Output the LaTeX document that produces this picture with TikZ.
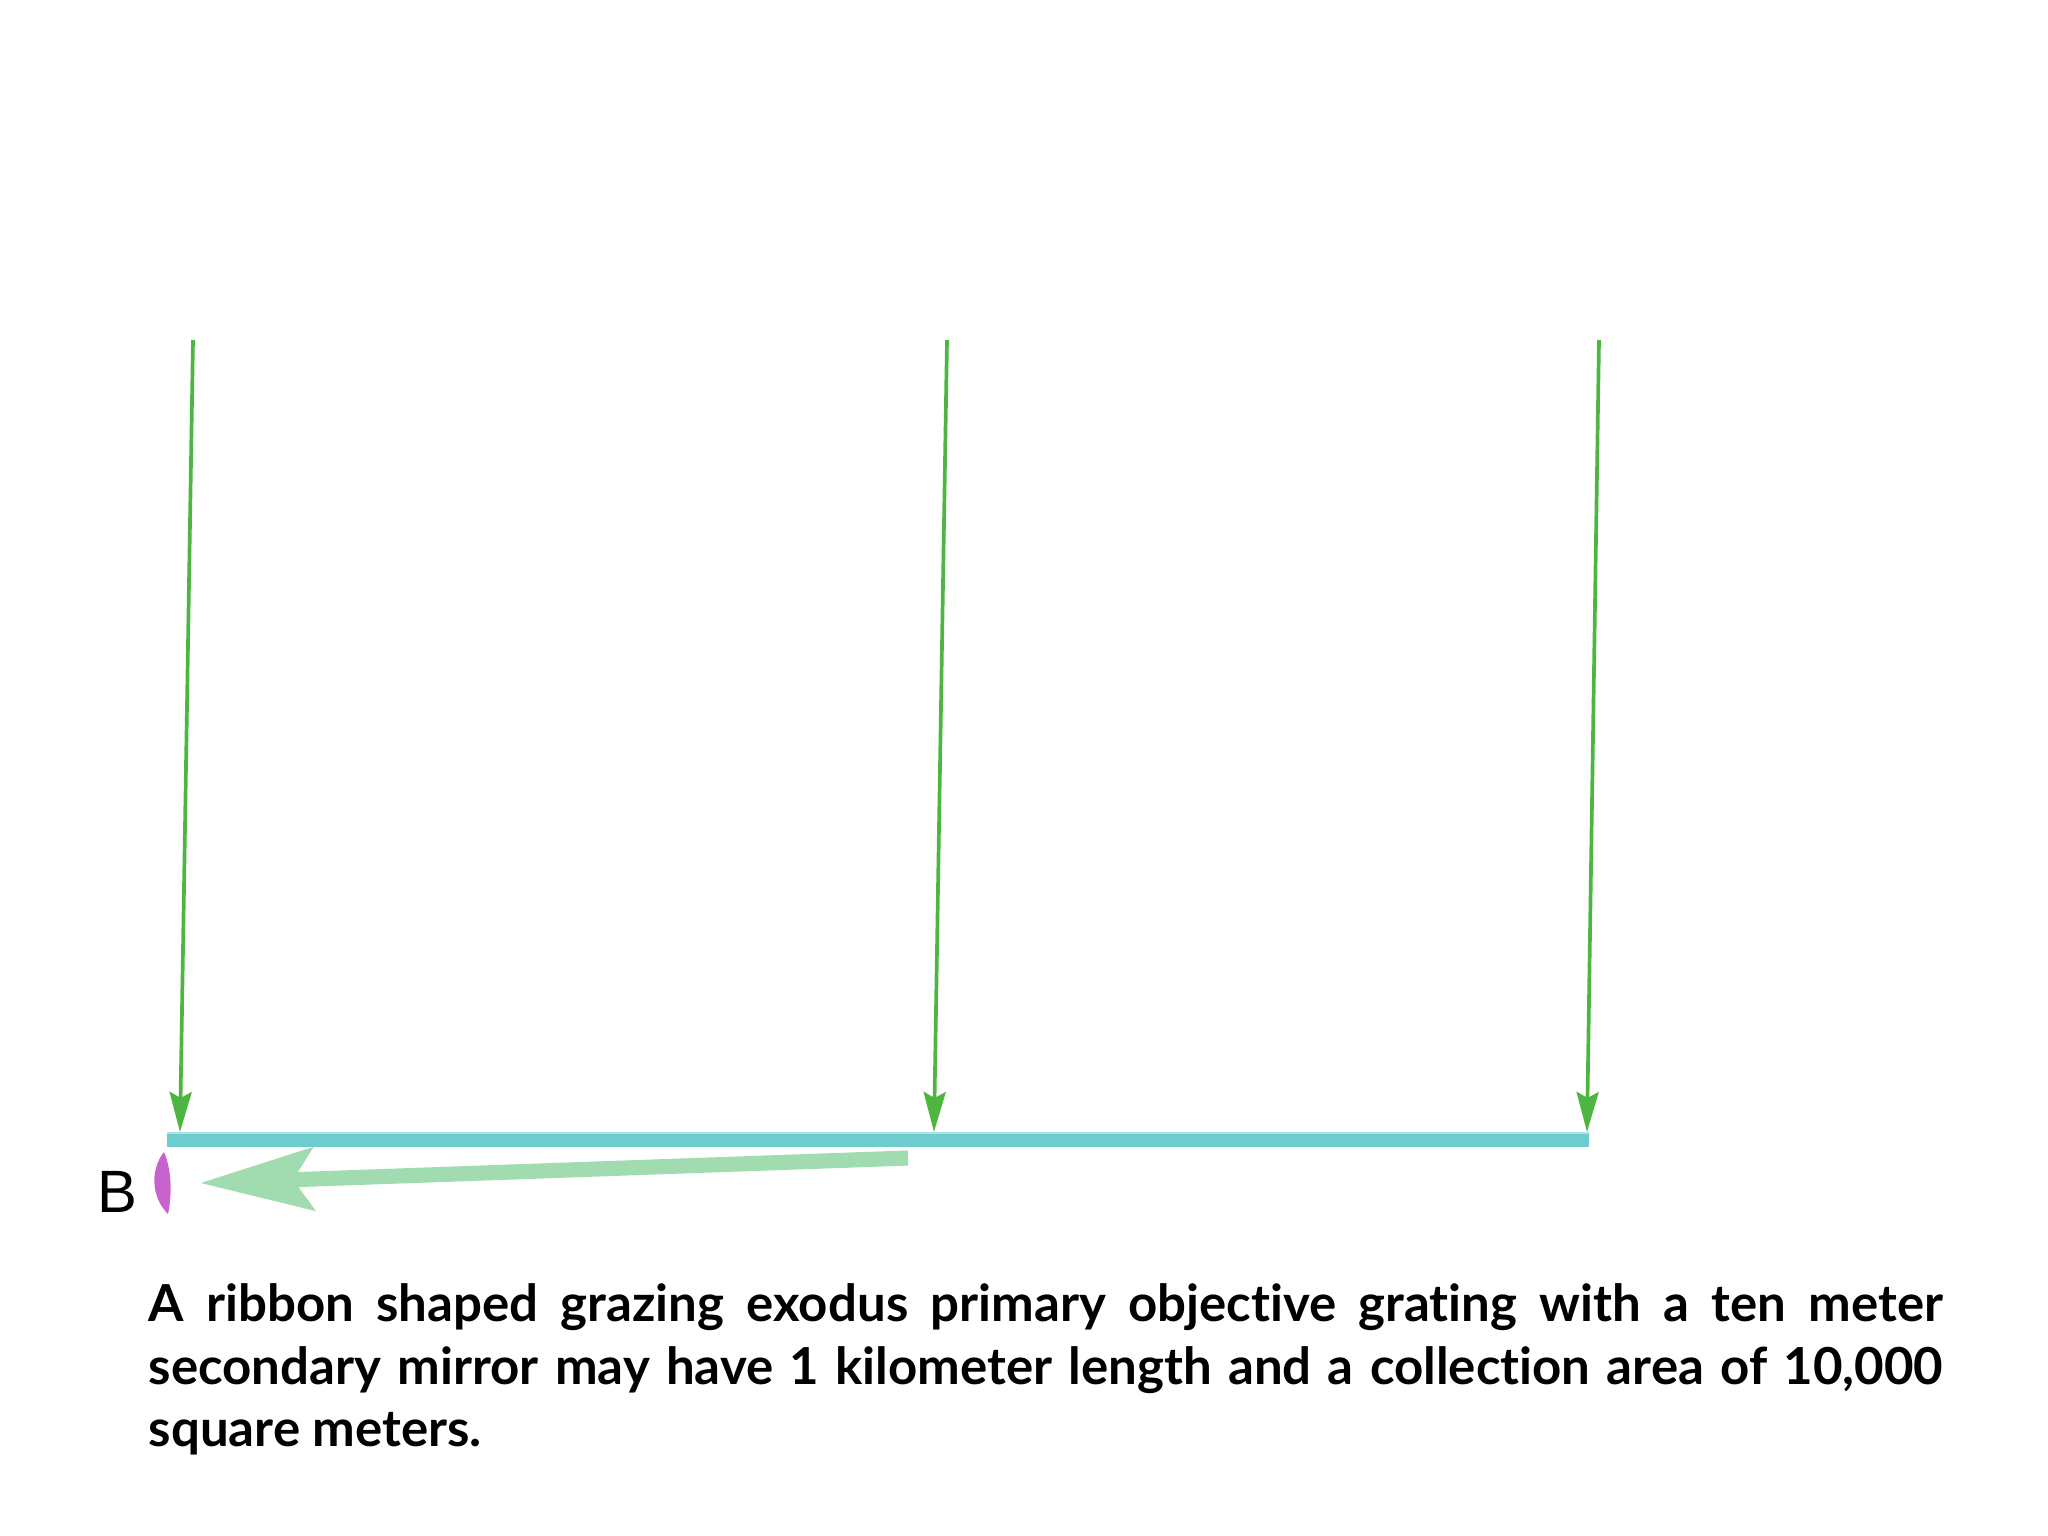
\documentclass[tikz,border=0pt]{standalone}
\usepackage{fontspec}
\usepackage{tikz}
\usetikzlibrary{arrows,arrows.meta,positioning,calc}
\newfontfamily\captfont{Lato}[Ligatures=NoCommon,RawFeature={-liga;-calt;-dlig}]
\newfontfamily\labfont{Liberation Sans}
\definecolor{RayGreen}{RGB}{76,182,64}
\definecolor{BounceGreen}{RGB}{160,220,176}
\definecolor{RibbonTeal}{RGB}{108,204,206}
\definecolor{MirrorPink}{RGB}{200,98,204}

\begin{document}
\begin{tikzpicture}[x=0.01cm,y=-0.01cm]
\useasboundingbox (0,0) rectangle (2048,1536);
% Grating ribbon
\pgfmathsetmacro{\ry}{1133} % top of ribbon
\fill[RibbonTeal] (167,\ry) rectangle (1589,{\ry+14});
\draw[RibbonTeal!55!white, line width=0.5pt] (167,\ry) -- (1589,\ry);

% Incoming rays
\foreach \n/\xt/\xb in {1/193/180, 2/947/934, 3/1599/1587}{
  \coordinate (top\n) at (\xt,340);
  \coordinate (hit\n) at (\xb,{\ry-1});
  \draw[RayGreen, line width=1.05pt, -{Stealth[length=4mm,width=2.2mm,inset=0.6mm]}] (top\n) -- (hit\n);
}

% Reflected beam to the secondary
\coordinate (beamstart) at (908,1158);
\coordinate (beamend) at (200,1183);
\draw[BounceGreen, line width=4.3pt, -{Stealth[length=11.3mm,width=6.2mm,inset=2mm]}] (beamstart) -- (beamend);

% Secondary mirror
\fill[MirrorPink] (164,1152) .. controls (151,1168) and (150,1196) .. (168,1214)
  .. controls (172,1196) and (172,1170) .. (164,1152) -- cycle;
\node[font=\labfont\fontsize{17}{20}\selectfont, anchor=base west, inner sep=0pt] (mirrorlabel) at (97,1212) {B};

% Caption
\node[anchor=north west, inner sep=0pt, text width=17.93cm, align=justify,
  font=\captfont\bfseries\fontsize{14.5}{17.8}\selectfont] (caption) at (148,1283)
  {A ribbon shaped grazing exodus primary objective grating with a ten meter\linebreak
   secondary mirror may have 1 kilometer length and a collection area of 10,000\linebreak
   square meters.};
\end{tikzpicture}
\end{document}
